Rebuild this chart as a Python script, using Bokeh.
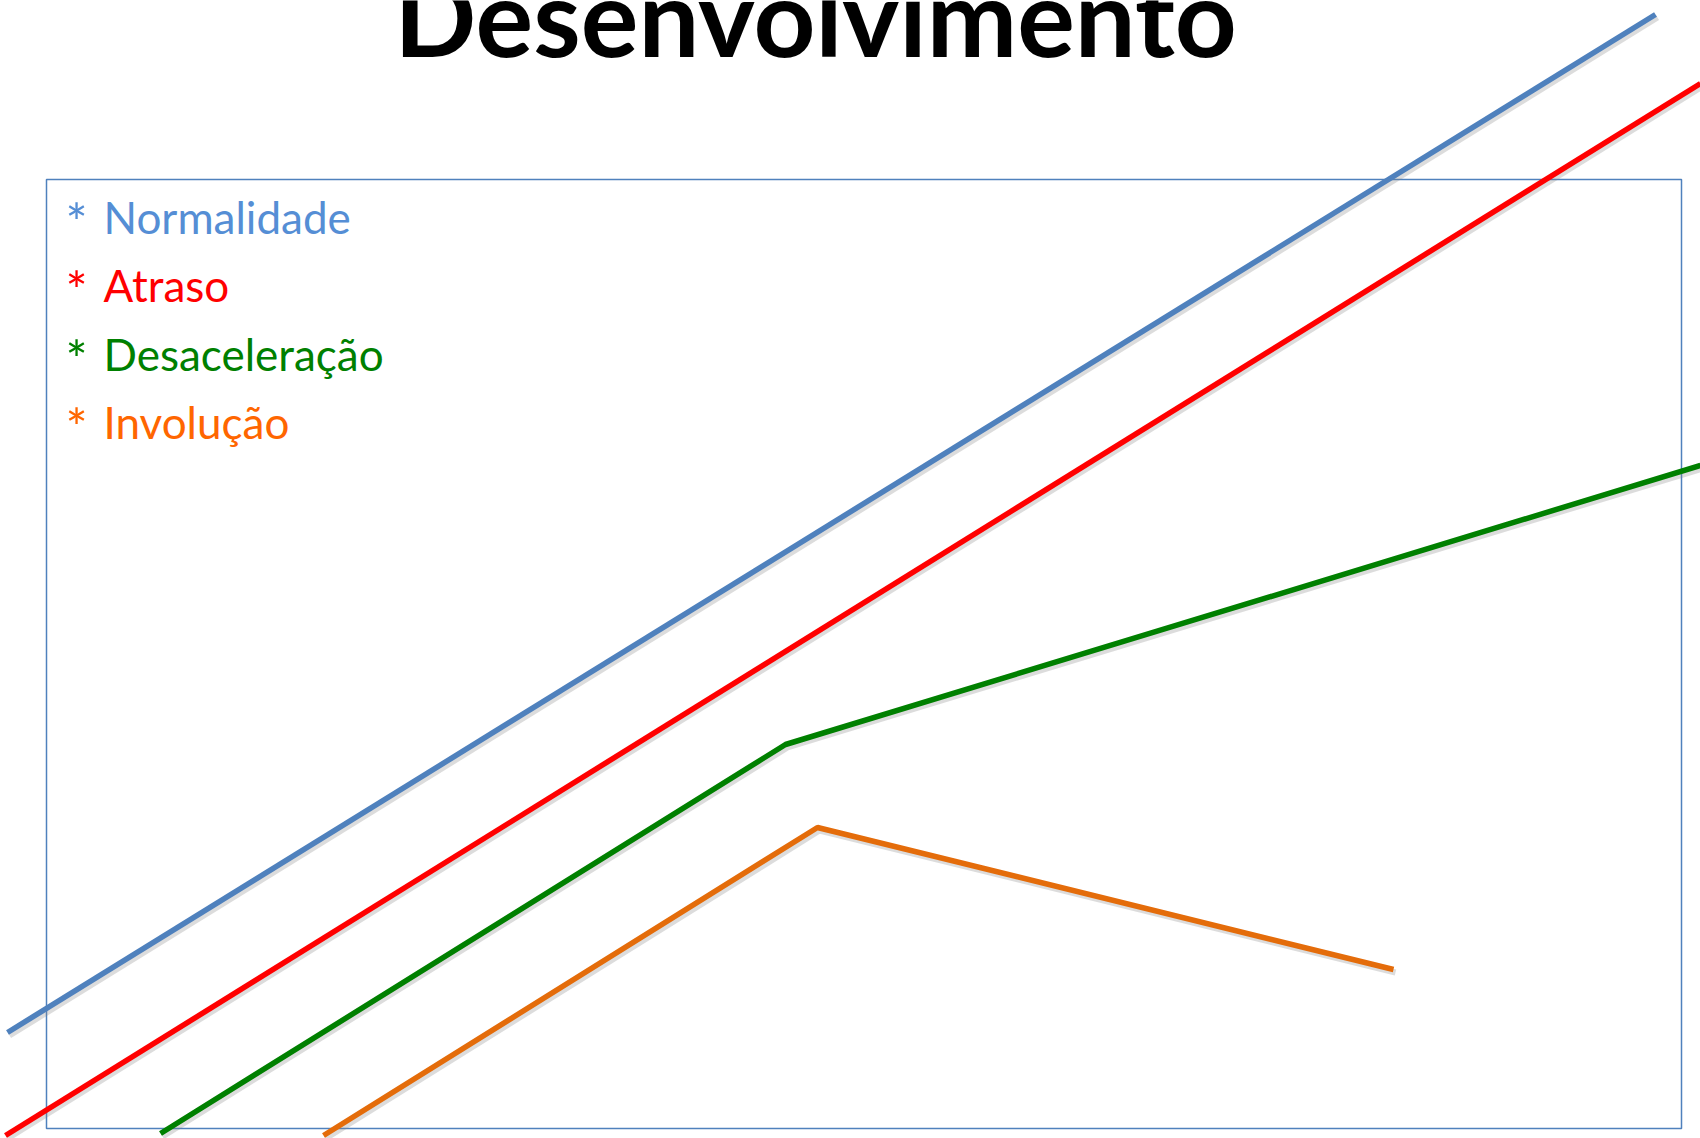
import numpy as np
from bokeh.plotting import figure
from bokeh.models import Range1d
from bokeh.core.properties import value
from bokeh.embed import file_html
from bokeh.resources import INLINE

# Development curves (x = time, y = development level)
normal_x = [7, 1655]
normal_y = [106, 1124]

atraso_x = [5, 1700]
atraso_y = [3, 1055]

desacel_x = [160, 785, 1700]
desacel_y = [5, 394, 673]

involucao_x = [323, 817, 1393]
involucao_y = [3, 311, 169]

labels = ["Normalidade", "Atraso", "Desaceleração", "Involução"]
label_colors = ["#558ED5", "#FF0000", "#008000", "#FF6600"]
title_text = "Desenvolvimento"

W, H = 1700, 1138
p = figure(width=W, height=H, output_backend="svg", toolbar_location=None,
           x_range=Range1d(0, W), y_range=Range1d(0, H), min_border=0)
p.axis.visible = False
p.grid.visible = False
p.outline_line_color = None
p.background_fill_color = "white"
p.border_fill_color = "white"

# frame
p.quad(left=46, right=1681, bottom=10, top=959, fill_color=None,
       line_color="#4F81BD", line_width=1.5)

series = [
    (normal_x, normal_y, "#4F81BD"),
    (atraso_x, atraso_y, "#FF0000"),
    (desacel_x, desacel_y, "#008000"),
    (involucao_x, involucao_y, "#E46C0A"),
]

# soft drop shadow under each line
for xs, ys, _ in series:
    p.line(np.array(xs) + 2, np.array(ys) - 3, line_color="#808080",
           line_alpha=0.28, line_width=6)
for xs, ys, c in series:
    p.line(xs, ys, line_color=c, line_width=5.5)

# title (runs off the top edge of the page)
title_size = 108
p.text(x=[815], y=[H - 59 + 0.41 * title_size], text=[title_text],
       text_font=value("Lato"), text_font_style="bold",
       text_font_size=f"{title_size}px", text_color="black",
       text_align="center", text_baseline="alphabetic")

# bullet list inside the frame
lab_size = 44
star_size = 52
base_px = np.array([235, 303, 372, 440])
ys_lab = H - base_px + 0.41 * lab_size
ys_star = H - (base_px + 8) + 0.41 * star_size
p.text(x=[65] * 4, y=ys_star, text=["*"] * 4, text_color=label_colors,
       text_font=value("Lato"), text_font_size=f"{star_size}px",
       text_align="left", text_baseline="alphabetic")
p.text(x=[103] * 4, y=ys_lab, text=labels, text_color=label_colors,
       text_font=value("Lato"), text_font_size=f"{lab_size}px",
       text_align="left", text_baseline="alphabetic")

open("out.html", "w").write(file_html(p, INLINE))
